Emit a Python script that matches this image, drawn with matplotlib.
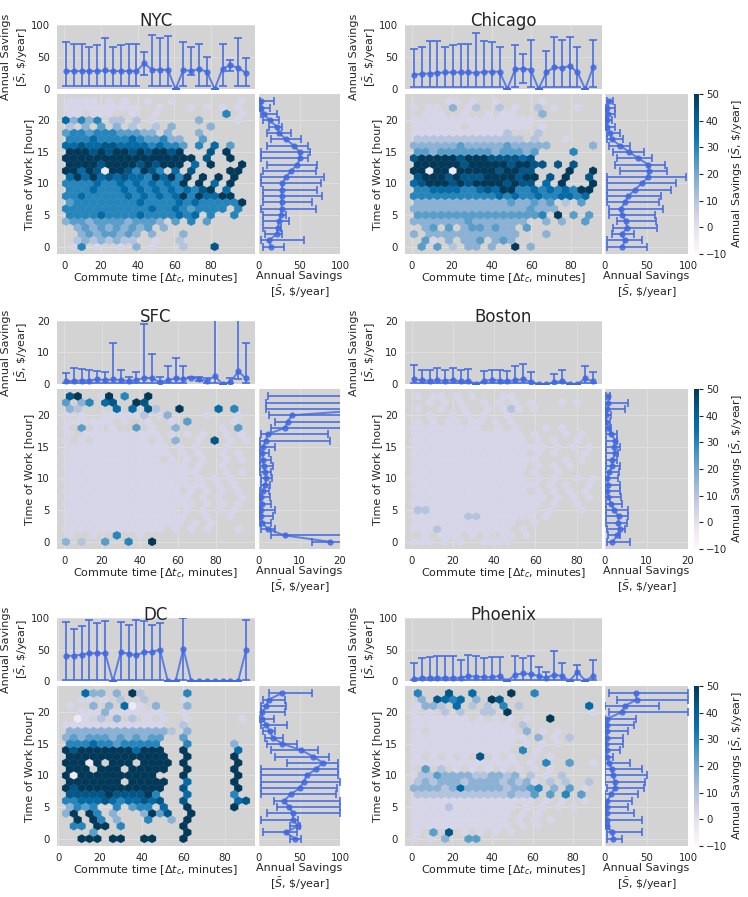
import numpy as np
import matplotlib.pyplot as plt

# ---------------- data ----------------
HOURS = list(range(24))
NBINS = 23          # hexbin columns across the commute range

# hexbin cells, one string per hour (hour 23 first); digit 0-9 -> -10..50 $/year, '.' = empty
NYC_HEX = [
    "2222.2.2..2..2........2.",
    "2222222222..2...2.2.2.2.",
    "22.222..2..2........6.2.",
    "74646.33.3.2.....4....2.",
    "3.4.5.4.3..3.4....4.....",
    "566566655544.4...4......",
    "666766667655644..5......",
    "7787788777767665.6.7.5..",
    "999898998989989...8.9...",
    "99999999999999999.8..9..",
    "999989999898999.7.9...9.",
    "9979819986986.7.8....99.",
    "7979787877697969.9.9.9..",
    "6666766767676769.9.7.9..",
    "6667666767676767689.7...",
    "6676666676767679697799..",
    "56666666676666767666669.",
    "666666666667667656666.6.",
    "66667666676666767.6..6..",
    "4554555545554.5.6.5.....",
    ".4545454545.4...........",
    "..45455454.4...4........",
    ".34343433..2..3.........",
    ".26.2..2.4.2...3...8....",
]
CHI_HEX = [
    "....22.2..2.....2.......",
    "2.22.4.23..3.2..3.2..2..",
    ".222..2..2.22...4.......",
    "2222222222222222........",
    "222222.22222222.2.......",
    "2222222222223...3.......",
    "33333333333333.3...2....",
    "444444544444544444.....4",
    "5545555555455545....6..3",
    "8999998999888878........",
    "99999989999989988.8.8...",
    "9919919999989988....9..9",
    "8999898889999899.8.9..8.",
    "7899989899998988.7.9...9",
    "66777766787996676767699.",
    "66666666666767667667767.",
    "444444444444544545.3.5..",
    "4444444444444445444.....",
    "55555555555555556.9.5.5.",
    "444444454444444..4.4..5.",
    ".45.5.4554544.5.........",
    "4.444444444444...4......",
    ".52.4.445.454...........",
    ".5.5.3.44.4..9.4........",
]
SFC_HEX = [
    "89..29.6..9.............",
    "5.46.78..98.............",
    "43....7.7.83..9....7.6..",
    "2.2..222223.24....2...2.",
    "222222.2..2..2.5.....2..",
    "2.5.2.2..5.2..4.....2.5.",
    "2.2222222222.2.2.2..2.2.",
    "2.2.2222222.2.4..2.8.2.2",
    "2222222222222.2.2...2...",
    "22222222222222.2.2..2.2.",
    "222222222222.2.2.2..2.2.",
    "2222222222222222.2..2...",
    "22222222222222222...2.2.",
    "2222222222222222.2.2.2..",
    "222222222222222222.2.2..",
    "222222222222222.2.2.2.2.",
    "2222222222222222.2.2..2.",
    "22222222222222222.2.2.2.",
    "22222222222222.2.2.2.2..",
    "2222222222222222..2..2..",
    "222222222222222.2.2.....",
    "2222222222222.2.2.2...2.",
    "2..2..6..2..............",
    "4.3..5..6..9............",
]
BOS_HEX = [
    "2.22.2.2...22...........",
    "..2.2.2..2.2.2.2...2.2..",
    "2..2..2..2.232.2........",
    "..2..2.2.2..2...........",
    "2.2.22.22.2.2..........2",
    "222222222..2.2...2.2....",
    "22222222222222.2...2.2..",
    "222222222222222.2.2..2..",
    "22222222222222222.2.2.22",
    "222222222222222.2.2...2.",
    "2222222222222222...2.2..",
    "222222222222222.2.2.2...",
    "22222222222222.2..2....2",
    "222222222222222.2.2..2.2",
    "2222222222222222.2.2..2.",
    "222222222222222.2.2.2.2.",
    "22222222222222222.2.2.22",
    "22222222222222222.2..2..",
    "3322222222222222.2...2.2",
    "2222222332222222.2......",
    "2222222222222..2........",
    "2223222222222.2.........",
    ".2.222.2.2.22.2.........",
    "222.2.2..2222...........",
]
DC_HEX = [
    "..744.4.93.....6........",
    "..22.2.3..3....2........",
    "2..4.4.712.4...4........",
    "..22242222222..2........",
    ".12.3.4.3.2.2..2......2.",
    "2222222222222..3........",
    "44444444444443.4........",
    "4545554545455..5........",
    "666766566666...6.....4..",
    "9899999997999..9......7.",
    "9999999999999..9.....9..",
    "99919.999.9999.9......9.",
    "999.999.99999..9.....9..",
    "919999999999...9......9.",
    "9999999.99999..7.....9..",
    "9899999999999..8......9.",
    "888889888896...7.....6..",
    "6677787677878..8......78",
    "4656..6.566.7..9.....9..",
    "49.96.4...4958..9.......",
    ".9.96.4...6..4.9........",
    ".66.99.6.......9........",
    "...5...........9........",
    "..999.99..99...9........",
]
PHX_HEX = [
    "6...8..7....9..6........",
    ".4.8767.4.98............",
    "2443.7.3.3.6.3........7.",
    "2.2.3.3..33.9..........2",
    "2222222.2.2.2.2..9......",
    "2222222222222.3.........",
    "2.22222222222.4.2.2.....",
    "222222222222222.4.2.3...",
    "2222222222222.2.2.2.....",
    "2222222222222.6.2.......",
    "2.2.2.2.8.2.2..2.2......",
    "22222222222222.2.6..5..2",
    ".5.3.2.2.2.2.2.2.2......",
    "23354444334434.3.2.3....",
    "3434443444434342.3.3..3.",
    "44443474444434456.4.5.2.",
    "3333333333334335.5.6.5.2",
    "2222222222222222.2.2..2.",
    "2222322222222.2.2.2.2..3",
    "2222222222222.2.2.......",
    "222222222222.2.2.2......",
    "2222222222222.2.2.......",
    "2.5.8.2.2.2.2...........",
    "2.2.4..55...............",
]

# commute-time range of each city's data (minutes)
NYC_RANGE = (1, 99)
CHI_RANGE = (1, 91)
SFC_RANGE = (1, 96)
BOS_RANGE = (1, 88)
DC_RANGE = (3.75, 90)
PHX_RANGE = (1, 90)

# top marginal: mean savings per commute bin, with lower / upper bar ends
NYC_TOP_MEAN = [28, 28, 28, 28, 28, 29, 28, 28, 28, 28, 40, 30, 30, 30, 0, 30, 28, 31, 27, 0, 32, 37, 33, 25]
NYC_TOP_LO = [5, 5, 5, 5, 5, 5, 5, 5, 5, 5, 22, 5, 5, 5, 0, 5, 22, 5, 5, 0, 5, 28, 5, 5]
NYC_TOP_HI = [74, 70, 70, 66, 68, 79, 66, 69, 71, 70, 58, 84, 80, 83, 0, 74, 66, 70, 50, 0, 71, 46, 79, 48]
CHI_TOP_MEAN = [22, 24, 24, 25, 26, 26, 26, 26, 25, 27, 27, 27, 0, 31, 32, 30, 0, 26, 34, 33, 36, 26, 0, 34]
CHI_TOP_LO = [3, 3, 3, 3, 3, 3, 3, 3, 3, 3, 3, 3, 0, 3, 10, 3, 0, 3, 3, 3, 3, 3, 0, 3]
CHI_TOP_HI = [63, 66, 75, 75, 66, 69, 70, 70, 88, 75, 74, 65, 0, 69, 54, 77, 0, 60, 82, 76, 82, 66, 0, 77]
SFC_TOP_MEAN = [0.8, 1.0, 1.1, 1.1, 1.5, 1.2, 1.5, 1.2, 0.9, 1.2, 2.0, 1.8, 0.5, 1.2, 1.8, 1.6, 2.0, 1.6, 0.9, 2.5, 0, 0.5, 4.0, 1.8]
SFC_TOP_LO = [0.3, 0.3, 0.3, 0.3, 0.3, 0.3, 0.3, 0.3, 0.3, 0.3, 0.3, 0.3, 0.2, 0.3, 0.3, 0.3, 1.8, 1.0, 0.3, 0.3, 0, 0.2, 1.5, 0.3]
SFC_TOP_HI = [3.6, 5.0, 4.7, 4.5, 4.0, 3.7, 13.0, 4.3, 2.3, 3.8, 19.0, 9.5, 2.3, 5.8, 8.3, 5.6, 2.2, 2.2, 2.0, 25, 0, 2.0, 25, 13.0]
BOS_TOP_MEAN = [1.5, 1.2, 1.0, 1.2, 1.0, 1.3, 0.8, 1.0, 0, 1.0, 1.3, 1.1, 0.9, 1.2, 1.5, 0.7, 0, 0, 0.5, 1.0, 0, 0, 1.8, 0.8]
BOS_TOP_LO = [0.2, 0.2, 0.2, 0.2, 0.2, 0.2, 0.2, 0.2, 0, 0.2, 0.2, 0.2, 0.2, 0.2, 0.2, 0.2, 0, 0, 0.2, 0.2, 0, 0, 0.2, 0.2]
BOS_TOP_HI = [6.0, 4.4, 4.4, 5.0, 4.6, 5.1, 4.4, 4.8, 0, 4.1, 4.5, 4.3, 4.0, 5.8, 6.2, 3.9, 0, 0, 3.3, 4.6, 0, 0, 5.8, 3.7]
DC_TOP_MEAN = [40, 40, 42, 44, 44, 44, 0, 46, 43, 41, 46, 46, 50, 0, 0, 51, 0, 0, 0, 0, 0, 0, 0, 49]
DC_TOP_LO = [2, 2, 2, 2, 2, 2, 0, 2, 2, 2, 2, 2, 2, 0, 0, 2, 0, 0, 0, 0, 0, 0, 0, 2]
DC_TOP_HI = [94, 83, 88, 97, 92, 95, 0, 94, 89, 97, 96, 89, 92, 0, 0, 100, 0, 0, 0, 0, 0, 0, 0, 97]
PHX_TOP_MEAN = [3, 5, 5, 5, 5, 5, 5, 8, 7, 6, 6, 8, 0, 10, 12, 11, 8, 5, 10, 8, 0, 15, 0, 8]
PHX_TOP_LO = [1, 1, 1, 1, 1, 1, 1, 1, 1, 1, 1, 1, 0, 1, 1, 1, 1, 1, 1, 1, 0, 2, 0, 1]
PHX_TOP_HI = [28, 37, 38, 40, 40, 40, 33, 42, 40, 37, 38, 38, 0, 39, 37, 40, 22, 15, 47, 29, 0, 26, 0, 33]

# side marginal: mean savings per hour of work (hour 0 first)
NYC_SIDE_MEAN = [15, 12, 22, 23, 25, 27, 28, 28, 28, 28, 29, 33, 40, 47, 51, 50, 43, 33, 25, 22, 13, 6, 3, 3]
NYC_SIDE_LO = [5, 3, 8, 5, 5, 5, 3, 5, 5, 5, 2, 2, 5, 10, 3, 3, 10, 15, 10, 12, 5, 2, 1, 1]
NYC_SIDE_HI = [31, 55, 28, 27, 37, 33, 70, 65, 78, 72, 76, 80, 70, 72, 60, 63, 60, 52, 40, 28, 25, 22, 14, 18]
CHI_SIDE_MEAN = [21, 24, 20, 27, 25, 21, 19, 24, 28, 36, 44, 52, 53, 52, 40, 29, 18, 8, 6, 3, 3, 4, 3, 5]
CHI_SIDE_LO = [2, 2, 8, 10, 15, 5, 5, 2, 3, 2, 2, 2, 18, 12, 15, 10, 5, 3, 2, 1, 1, 1, 1, 3]
CHI_SIDE_HI = [50, 45, 35, 63, 62, 60, 70, 65, 67, 80, 85, 97, 75, 72, 57, 47, 30, 22, 18, 12, 8, 12, 12, 10]
SFC_SIDE_MEAN = [17.5, 6.3, 2.2, 0.8, 0.5, 0.6, 0.8, 0.5, 1.0, 1.5, 1.8, 1.5, 1.2, 1.0, 0.8, 1.0, 1.7, 2.1, 6.4, 7.1, 8.1, 30, 30, 30]
SFC_SIDE_LO = [13, 3, 0.5, 0.2, 0.2, 0.2, 0.2, 0.2, 0.3, 0.5, 0.5, 0.3, 0.3, 0.3, 0.2, 0.2, 0.3, 0.5, 3, 4, 2.5, 1.8, 1.7, 2.1]
SFC_SIDE_HI = [25, 25, 4, 3, 3.5, 4, 3, 2.8, 2.5, 2.8, 3.2, 3, 3.5, 3, 2.5, 4, 17.5, 17, 25, 25, 25, 60, 60, 60]
BOS_SIDE_MEAN = [1.8, 3.0, 3.5, 3.2, 3.3, 2.2, 1.5, 0.8, 0.5, 0.7, 0.6, 1.0, 1.8, 1.8, 2.5, 2.2, 2.5, 1.5, 0.8, 0.3, 0.3, 0.6, 0.8, 0.8]
BOS_SIDE_LO = [0.5, 0.8, 0.5, 0.2, 0.2, 0.2, 0.2, 0.1, 0.1, 0.1, 0.1, 0.1, 0.2, 0.2, 0.3, 0.3, 0.3, 0.2, 0.1, 0.1, 0.1, 0.1, 0.1, 0.2]
BOS_SIDE_HI = [6.0, 3.5, 4.8, 5.2, 5.6, 5.6, 4.0, 3.8, 3.5, 3.5, 3.2, 3.3, 3.5, 2.8, 3.2, 3.5, 3.0, 2.8, 1.5, 1.2, 1.5, 4.8, 5.5, 1.2]
DC_SIDE_MEAN = [45, 33, 48, 42, 42, 37, 31, 39, 50, 55, 59, 70, 79, 67, 52, 29, 17, 13, 9, 4, 4, 9, 12, 28]
DC_SIDE_LO = [38, 5, 38, 3, 10, 22, 18, 2, 2, 2, 2, 2, 35, 20, 15, 10, 8, 5, 3, 1, 2, 3, 5, 12]
DC_SIDE_HI = [52, 47, 50, 48, 100, 100, 100, 95, 96, 100, 98, 97, 97, 87, 73, 47, 30, 20, 34, 18, 32, 33, 32, 65]
PHX_SIDE_MEAN = [10, 9, 2, 2, 2, 2, 3, 7, 12, 12, 10, 8, 5, 2, 2, 1, 2, 3, 3, 3, 20, 24, 38, 37]
PHX_SIDE_LO = [2, 2, 0, 0, 0, 0, 0, 0, 2, 0, 0, 0, 0, 0, 0, 0, 0, 0, 0, 0, 5, 0, 14, 5]
PHX_SIDE_HI = [20, 44, 5, 45, 35, 28, 32, 40, 47, 48, 50, 45, 30, 10, 18, 22, 22, 28, 35, 37, 100, 65, 100, 100]

CITIES = [
    ("NYC", NYC_HEX, NYC_RANGE, NYC_TOP_MEAN, NYC_TOP_LO, NYC_TOP_HI, NYC_SIDE_MEAN, NYC_SIDE_LO, NYC_SIDE_HI, 100),
    ("Chicago", CHI_HEX, CHI_RANGE, CHI_TOP_MEAN, CHI_TOP_LO, CHI_TOP_HI, CHI_SIDE_MEAN, CHI_SIDE_LO, CHI_SIDE_HI, 100),
    ("SFC", SFC_HEX, SFC_RANGE, SFC_TOP_MEAN, SFC_TOP_LO, SFC_TOP_HI, SFC_SIDE_MEAN, SFC_SIDE_LO, SFC_SIDE_HI, 20),
    ("Boston", BOS_HEX, BOS_RANGE, BOS_TOP_MEAN, BOS_TOP_LO, BOS_TOP_HI, BOS_SIDE_MEAN, BOS_SIDE_LO, BOS_SIDE_HI, 20),
    ("DC", DC_HEX, DC_RANGE, DC_TOP_MEAN, DC_TOP_LO, DC_TOP_HI, DC_SIDE_MEAN, DC_SIDE_LO, DC_SIDE_HI, 100),
    ("Phoenix", PHX_HEX, PHX_RANGE, PHX_TOP_MEAN, PHX_TOP_LO, PHX_TOP_HI, PHX_SIDE_MEAN, PHX_SIDE_LO, PHX_SIDE_HI, 100),
]

# ---------------- layout (pixels of the 748x897 image) ----------------
W, H = 748, 897
COLS = [(57, 255, 259, 340), (405, 602, 605, 688)]
ROWS = [(25, 89, 94, 254), (321, 384, 389, 549), (618, 681, 686, 846)]
CBAR_X = (694, 699)

BG = '#d3d3d3'
GRIDC = '#dfdfdf'
LINE = 'royalblue'
SAV = 'Annual Savings\n' + r'[$\bar{S}$, \$/year]'

plt.rcParams.update({
    'font.family': 'DejaVu Sans',
    'font.size': 7.5,
    'text.color': '#262626',
    'axes.labelcolor': '#262626',
    'xtick.color': '#262626',
    'ytick.color': '#262626',
    'xtick.labelsize': 7.3,
    'ytick.labelsize': 7.3,
    'axes.labelsize': 8,
})


def px_axes(fig, x0, x1, y0, y1):
    return fig.add_axes([x0 / W, 1 - y1 / H, (x1 - x0) / W, (y1 - y0) / H])


def style(ax):
    ax.set_facecolor(BG)
    ax.set_axisbelow(True)
    ax.grid(True, color=GRIDC, lw=0.7)
    for s in ax.spines.values():
        s.set_visible(False)
    ax.tick_params(length=0, pad=5)


def hex_cells(grid, xr):
    sx = (xr[1] - xr[0]) / NBINS
    xs, ys, cs = [], [], []
    for k, row in enumerate(grid):
        hour = 23 - k
        odd = hour % 2
        row = row[:NBINS] if odd else row[:NBINS + 1]
        for i, ch in enumerate(row):
            if ch == '.':
                continue
            xs.append(xr[0] + (i + 0.5 * odd) * sx)
            ys.append(hour)
            cs.append(-10 + 60 * int(ch) / 9)
    return np.array(xs), np.array(ys), np.array(cs)


fig = plt.figure(figsize=(W / 100, H / 100), dpi=100)

for n, (name, grid, xr, tm, tlo, thi, sm, slo, shi, smax) in enumerate(CITIES):
    c, r = n % 2, n // 2
    mx0, mx1, sx0, sx1 = COLS[c]
    ty0, ty1, my0, my1 = ROWS[r]
    span = xr[1] - xr[0]
    xlim = (xr[0] - 0.05 * span, xr[1] + 0.05 * span)
    ylim = (-1.15, 24.15)

    # joint hexbin
    ax = px_axes(fig, mx0, mx1, my0, my1)
    style(ax)
    xs, ys, cs = hex_cells(grid, xr)
    hb = ax.hexbin(xs, ys, C=cs, gridsize=(NBINS, 12), extent=(xr[0], xr[1], 0, 24),
                   reduce_C_function=np.mean, cmap='PuBu', vmin=-10, vmax=50,
                   linewidths=0.2, edgecolors='face')
    ax.set_xlim(xlim)
    ax.set_ylim(ylim)
    ax.set_xticks([0, 20, 40, 60, 80])
    ax.set_yticks([0, 5, 10, 15, 20])
    ax.set_xlabel(r'Commute time [$\Delta t_c$, minutes]', labelpad=0)
    ax.set_ylabel('Time of Work [hour]')
    ax.yaxis.set_label_coords(-0.118, 0.5)

    # top marginal
    axt = px_axes(fig, mx0, mx1, ty0, ty1)
    style(axt)
    bins = xr[0] + np.arange(NBINS + 1) * span / NBINS
    tm, tlo, thi = np.array(tm), np.array(tlo), np.array(thi)
    axt.errorbar(bins, tm, yerr=[tm - tlo, thi - tm], fmt='-o', color=LINE, alpha=0.8,
                 ms=3.5, lw=1.4, capsize=3, capthick=1.4)
    axt.set_xlim(xlim)
    axt.set_ylim(0, smax)
    axt.set_yticks([0, smax / 2, smax])
    axt.set_yticklabels([0, int(smax / 2), smax])
    axt.set_xticks([0, 20, 40, 60, 80])
    axt.set_xticklabels([])
    axt.set_ylabel(SAV)
    axt.yaxis.set_label_coords(-0.138, 0.5)
    fig.text((mx0 + mx1) / 2 / W, 1 - (ty0 + 1.5) / H, name, fontsize=12,
             ha='center', va='baseline')

    # side marginal
    axs = px_axes(fig, sx0, sx1, my0, my1)
    style(axs)
    sm, slo, shi = np.array(sm), np.array(slo), np.array(shi)
    axs.errorbar(sm, HOURS, xerr=[sm - slo, shi - sm], fmt='-o', color=LINE, alpha=0.8,
                 ms=3.5, lw=1.4, capsize=3, capthick=1.4)
    axs.set_ylim(ylim)
    axs.set_yticks([0, 5, 10, 15, 20])
    axs.set_yticklabels([])
    axs.set_xlim(0, smax)
    axs.set_xticks([0, smax / 2, smax])
    axs.set_xticklabels([0, int(smax / 2), smax])
    axs.set_xlabel(SAV, labelpad=0)

    if c == 1:
        cax = px_axes(fig, CBAR_X[0], CBAR_X[1], my0, my1)
        cb = fig.colorbar(hb, cax=cax, ticks=[-10, 0, 10, 20, 30, 40, 50])
        cb.outline.set_visible(False)
        cax.tick_params(length=3, width=0.8, pad=2, labelsize=7.3)
        cb.set_label(r'Annual Savings [$\bar{S}$, \$/year]', fontsize=8, labelpad=1)

fig.savefig('out.png', dpi=100)
